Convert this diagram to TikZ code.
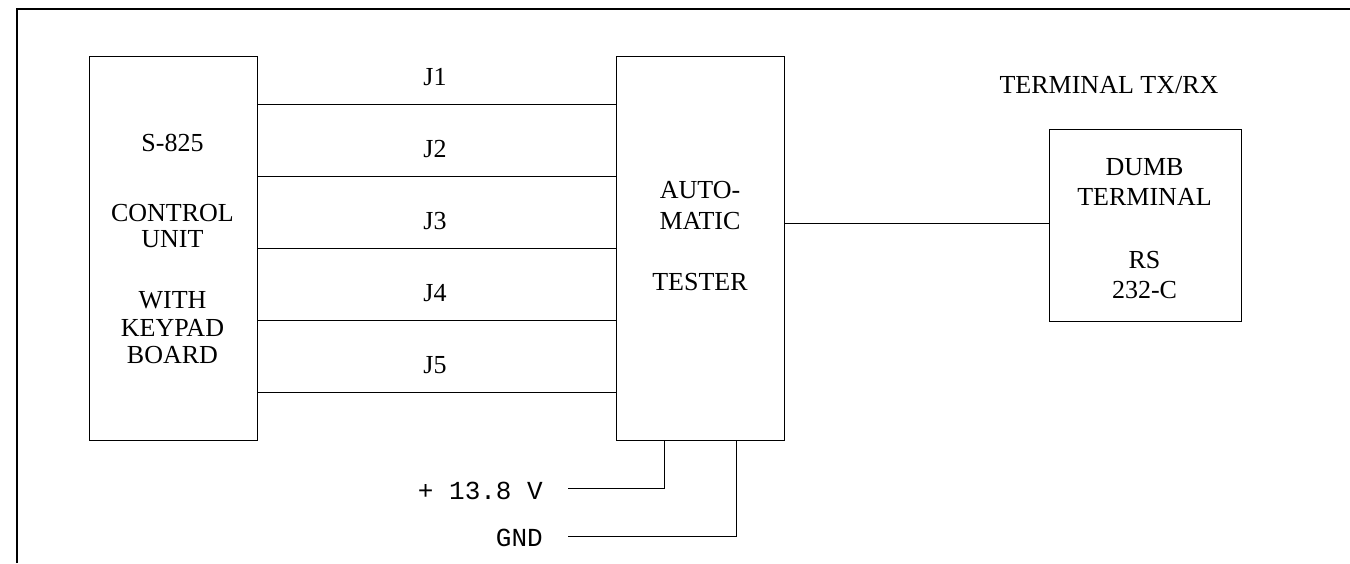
\documentclass[tikz,border=0pt]{standalone}
\usepackage{fontspec}
\setmainfont{Liberation Serif}
\setmonofont{Liberation Mono}
\begin{document}
\begin{tikzpicture}[x=1pt,y=-1pt,
  box/.style={draw,line width=1.2pt,inner sep=0pt,anchor=north west},
  wire/.style={line width=1pt},
  txt/.style={font=\fontsize{26}{28}\selectfont,anchor=base,inner sep=0pt},
  mono/.style={font=\fontsize{26}{28}\ttfamily,anchor=base east,inner sep=0pt}]
\useasboundingbox (0,0) rectangle (1350,563);
% frame
\draw[line width=2pt] (16.5,563) -- (16.5,9) -- (1350,9);
% boxes
\node[box,minimum width=168pt,minimum height=384pt] (cu) at (88.5,56) {};
\node[box,minimum width=168pt,minimum height=384pt] (at) at (616,56) {};
\node[box,minimum width=192pt,minimum height=192pt] (dt) at (1048.5,128.5) {};
% control unit text
\node[txt] (cu1) at (172.5,151.5) {S-825};
\node[txt] (cu2) at (172.5,221.5) {CONTROL};
\node[txt] (cu3) at (172.5,247) {UNIT};
\node[txt] (cu4) at (172.5,308.5) {WITH};
\node[txt] (cu5) at (172.5,336) {KEYPAD};
\node[txt] (cu6) at (172.5,363) {BOARD};
% tester text
\node[txt] (at1) at (700,198.5) {AUTO-};
\node[txt] (at2) at (700,229) {MATIC};
\node[txt] (at3) at (700,290.5) {TESTER};
% dumb terminal text
\node[txt] (dt1) at (1144.5,175) {DUMB};
\node[txt] (dt2) at (1144.5,205) {TERMINAL};
\node[txt] (dt3) at (1144.5,268) {RS};
\node[txt] (dt4) at (1144.5,298) {232-C};
\node[txt] (ttl) at (1109,93) {TERMINAL TX/RX};
% J wires
\foreach \i/\y in {1/104,2/176,3/248.3,4/320.5,5/392.3}{
  \coordinate (a\i) at (cu.north east |- 0,\y);
  \coordinate (b\i) at (at.north west |- 0,\y);
  \draw[wire] (a\i) -- (b\i);
  \node[txt] (j\i) at (435,\y-19) {J\i};
}
% tester to terminal
\draw[wire] (at.east |- 0,223.3) -- (dt.west |- 0,223.3);
% power
\node[mono] (pwr) at (543,499) {+ 13.8 V};
\node[mono] (gnd) at (543,546.5) {GND};
\coordinate (p1) at (568,488.3);
\coordinate (g1) at (568,536.7);
\draw[wire] (p1) -- (664.3,488.3) -- (664.3,440);
\draw[wire] (g1) -- (736,536.7) -- (736,440);
\end{tikzpicture}
\end{document}
